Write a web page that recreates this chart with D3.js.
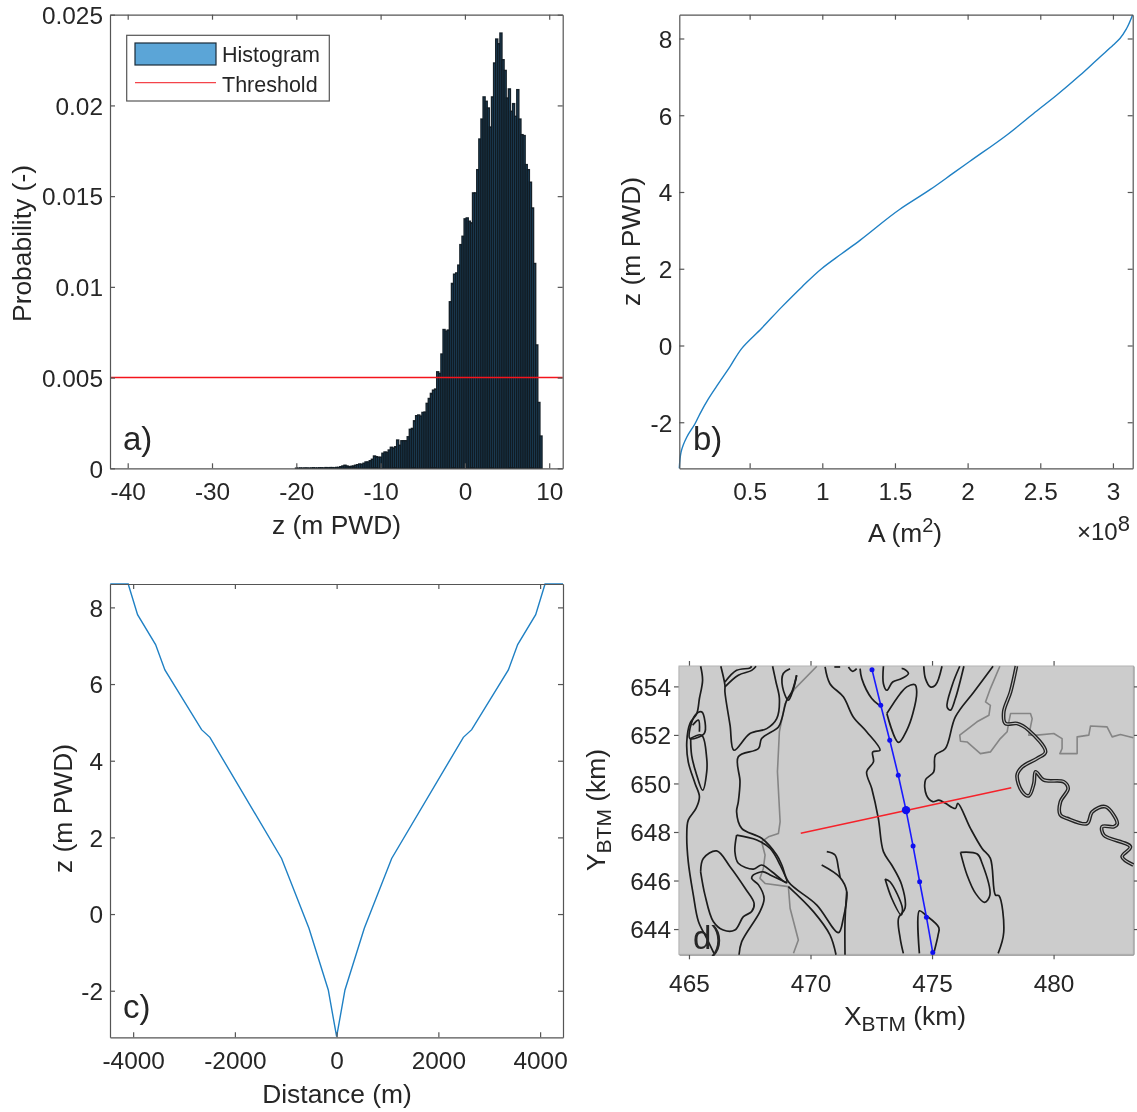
<!DOCTYPE html>
<html><head><meta charset="utf-8">
<script src="https://cdn.jsdelivr.net/npm/d3@7/dist/d3.min.js"></script>
<style>
html,body{margin:0;padding:0;background:#fff}
svg{display:block;filter:blur(0.45px)}
text{font-family:"Liberation Sans",Arial,sans-serif;fill:#262626}
.tick text{font-size:24.4px}
.axis path,.axis line{stroke:#555;stroke-width:1.2;shape-rendering:auto}
.lab{font-size:26.4px;text-anchor:middle}
.let{font-size:33px}
</style></head><body>
<div id="chart"></div>
<script>
// ---------- panel a: histogram ----------
const binWidth = 0.25;
const histTailStart = -20.1;
const histTail = [0.00001,0.00001,0.00002,0.00001,0.00002,0.00002,0.00001,0.00002,0.00003,0.00002,0.00002,0.00003,0.00003,0.00002,0.00004,0.00003,0.00004,0.00004,0.00003,0.00005];
const histStart = -15.1;
const histProb = [0.00005,0.00009,0.00013,0.00017,0.00013,0.00009,0.00011,0.00013,0.00017,0.00020,
0.00024,0.00022,0.00028,0.00035,0.00035,0.00042,0.00050,0.00068,0.00064,0.00061,
0.00061,0.00083,0.00090,0.00088,0.00101,0.00116,0.00112,0.00119,0.00156,0.00127,
0.00152,0.00152,0.00152,0.00174,0.00215,0.00220,0.00262,0.00290,0.00294,0.00288,
0.00308,0.00310,0.00358,0.00385,0.00413,0.00431,0.00437,0.00532,0.00523,0.00630,
0.00765,0.00756,0.00762,0.00918,0.01019,0.01070,0.01077,0.01120,0.01233,0.01279,
0.01375,0.01380,0.01362,0.01353,0.01518,0.01518,0.01646,0.01815,0.01925,0.02047,
0.02023,0.01986,0.01881,0.02047,0.02234,0.02366,0.02340,0.02399,0.02252,0.02193,
0.02041,0.02091,0.01968,0.02010,0.01940,0.02087,0.01925,0.01839,0.01834,0.01674,
0.01646,0.01577,0.01435,0.01129,0.00680,0.00363,0.00178];
const threshold = 0.005;
const aXTicks = [-40,-30,-20,-10,0,10];
const aYTicks = [0,0.005,0.01,0.015,0.02,0.025];
const legendLabels = ["Histogram","Threshold"];
// ---------- panel b: hypsometry ----------
const hypsoArea = [0.016,0.028,0.067,0.124,0.158,0.216,0.284,0.365,0.445,0.583,0.720,0.858,0.995,1.133,1.259,1.534,1.741,1.901,2.016,2.268,2.452,2.612,2.773,2.911,3.002,3.048,3.094,3.135];
const hypsoZ = [-3.2,-2.78,-2.39,-2.04,-1.78,-1.39,-1.0,-0.55,-0.08,0.45,1.0,1.52,2.0,2.39,2.74,3.55,4.06,4.49,4.80,5.48,6.04,6.52,7.04,7.52,7.83,8.0,8.26,8.61];
const bXTicks = [0.5,1,1.5,2,2.5,3];
const bYTicks = [-2,0,2,4,6,8];
// ---------- panel c: cross-section ----------
const sectionDist = [-4450,-4097,-3913,-3559,-3376,-2655,-2491,-1082,-544,-164,0,164,544,1082,2491,2655,3376,3559,3913,4097,4450];
const sectionZ = [8.61,8.61,7.81,7.03,6.37,4.81,4.61,1.45,-0.37,-1.98,-3.2,-1.98,-0.37,1.45,4.61,4.81,6.37,7.03,7.81,8.61,8.61];
const cXTicks = [-4000,-2000,0,2000,4000];
const cYTicks = [-2,0,2,4,6,8];
// ---------- panel d: map (km) ----------
const dXTicks = [465,470,475,480];
const dYTicks = [644,646,648,650,652,654];
const channelCenter = [[472.53,654.69],[472.89,653.22],[473.26,651.78],[473.61,650.34],[473.93,648.90],[474.22,647.42],[474.49,645.95],[474.77,644.49],[475.03,643.03]];
const sectionPoint = [473.93,648.90];
const sectionLine = [[469.6,647.95],[478.26,649.82]];
const bankLines = [
[[465.48,654.83],[465.56,654.25],[465.43,653.50],[465.32,652.88],[465.04,652.47],[464.91,651.71],[464.97,650.89],[465.25,650.00],[465.43,649.45],[465.29,648.97],[464.97,648.49],[464.91,647.87],[464.97,646.78],[465.18,645.40],[465.39,644.31],[465.73,643.62],[466.03,643.00]],
[[465.07,651.85],[465.11,651.16],[465.32,650.34],[465.56,649.72],[465.73,650.48],[465.73,651.03],[465.52,651.99],[465.07,651.85]],
[[465.04,652.26],[465.25,652.81],[465.52,652.95],[465.66,652.54],[465.63,652.06],[465.04,651.85],[465.04,652.26]],
[[465.15,652.40],[465.39,652.61],[465.43,652.13]],
[[466.31,654.83],[466.48,654.05],[466.48,653.77],[466.69,652.40],[466.85,651.37],[467.51,652.06],[468.20,652.26],[468.61,652.67],[468.72,653.50],[468.58,654.18],[468.44,654.83]],
[[466.48,654.18],[466.96,654.66],[467.51,654.76],[467.58,654.83]],
[[466.48,653.98],[467.03,654.46],[467.58,654.66],[467.76,654.83]],
[[469.16,654.73],[468.88,654.53],[468.85,653.98],[469.09,653.43],[469.30,653.91],[469.43,654.46]],
[[469.43,654.46],[469.23,653.77],[469.02,653.43],[468.82,652.67],[468.68,652.33],[467.99,651.85],[467.86,651.44],[467.03,651.10],[467.10,650.07],[467.03,649.24],[466.96,648.83],[467.17,648.15],[467.99,647.74],[468.61,647.05],[468.82,646.64],[469.09,645.95],[470.26,644.99],[471.15,643.85],[471.35,644.44],[471.49,645.54],[471.22,646.12],[470.46,646.64]],
[[471.22,646.12],[471.15,646.50],[471.01,647.05],[470.67,647.19]],
[[471.49,645.54],[471.42,644.31],[471.42,642.94]],
[[469.09,645.75],[470.12,644.72],[470.80,643.76],[471.05,642.94]],
[[466.96,647.87],[466.89,647.19],[467.03,646.71],[467.65,646.47],[467.99,646.64],[468.40,646.37],[469.02,645.91],[468.75,646.64],[468.34,647.32],[467.79,647.67],[466.96,647.87]],
[[469.02,645.91],[468.34,646.23],[468.06,646.36],[467.65,646.23],[467.58,646.09],[467.86,645.82],[468.09,645.27],[467.92,644.72],[467.17,643.48],[467.06,642.94]],
[[465.48,646.36],[465.59,646.91],[466.14,647.22],[466.69,646.57],[467.31,645.68],[467.68,645.06],[467.58,644.72],[467.24,644.51],[466.89,643.96],[466.41,643.96],[466.00,644.31],[465.66,645.40],[465.48,646.36]],
[[470.60,654.80],[470.80,654.11],[471.35,653.57],[471.76,652.74],[472.31,652.13],[472.86,651.37],[472.56,651.30],[472.59,650.89],[472.31,650.48],[472.52,649.79],[472.79,648.56],[473.00,647.19],[473.34,646.64],[473.75,645.83],[473.89,644.86],[473.62,644.44],[473.69,643.62],[473.82,643.00]],
[[473.07,646.06],[473.27,645.95],[473.78,644.86],[473.73,644.58],[473.34,645.27],[473.07,646.06]],
[[470.98,654.80],[471.22,654.80]],
[[471.56,654.80],[471.74,654.62],[471.90,654.73]],
[[472.04,654.73],[472.11,654.32],[472.52,653.50],[472.83,653.22]],
[[473.14,652.88],[473.62,651.69],[473.96,652.19],[474.21,652.88],[474.37,653.77],[474.30,654.07],[473.96,653.98],[473.69,653.70],[473.14,652.88]],
[[473.00,654.83],[473.00,654.11],[473.14,653.84],[473.38,654.18],[473.75,654.32],[474.03,654.53],[473.82,654.73],[473.75,654.73]],
[[474.66,654.83],[474.73,654.32],[474.93,653.98],[475.14,654.05],[475.41,654.83]],
[[476.14,654.83],[475.83,654.05],[475.62,653.15],[475.76,653.02],[475.96,653.50],[476.31,654.83]],
[[477.51,654.83],[476.72,653.77],[475.96,652.74],[475.55,651.44],[475.14,651.17],[475.07,650.48],[474.73,650.14],[474.77,649.52],[475.03,649.25],[475.28,649.31],[475.55,649.18],[475.96,648.97],[476.06,649.18],[476.58,648.15],[477.06,647.32],[477.40,646.91],[477.61,645.40],[477.75,645.38],[477.95,643.87],[477.72,643.00]],
[[476.17,647.16],[476.86,647.09],[477.06,646.71],[477.38,645.40],[477.16,645.10],[476.79,645.47],[476.44,646.23],[476.17,647.16]],
[[474.48,643.00],[474.48,644.75],[474.73,644.58],[475.28,644.06],[475.25,643.76],[475.07,643.00]]
];
const grayLines = [
[[470.26,654.83],[469.36,653.91],[468.95,653.29],[468.72,652.13],[468.64,650.48],[468.75,648.42],[468.68,647.94],[468.27,647.80],[467.99,647.60],[468.13,647.05],[468.06,646.50],[467.92,646.09],[468.13,645.88],[469.09,645.75],[469.16,644.86],[469.50,643.55],[469.30,643.00]],
[[477.79,654.83],[477.40,653.91],[477.20,653.36],[477.40,653.22],[477.34,652.81],[476.85,652.54],[476.14,651.99],[476.17,651.74],[476.44,651.71],[476.99,651.23],[477.40,651.30],[477.81,651.85],[478.09,652.13],[478.16,652.54],[478.23,652.88],[479.05,652.88],[479.12,652.67],[478.98,651.99],[479.32,651.99],[480.01,652.06],[480.35,651.85],[480.35,651.44],[480.26,651.23],[480.97,651.23],[480.97,651.92],[481.45,651.99],[481.52,652.37],[482.20,652.33],[482.41,651.92],[482.75,652.02],[483.28,651.88]]
];
const river = [[478.47,654.83],[478.23,653.77],[477.95,652.95],[478.02,652.47],[478.50,652.47],[478.98,652.19],[479.67,651.30],[479.32,651.03],[478.71,650.68],[478.50,650.34],[478.71,649.66],[478.98,649.49],[479.19,650.00],[479.26,650.48],[479.60,650.14],[480.42,650.07],[480.60,649.79],[480.28,649.24],[480.28,648.70],[480.56,648.56],[481.38,648.35],[481.59,648.83],[482.14,649.04],[482.62,648.35],[482.48,648.22],[482.00,648.22],[482.07,647.87],[483.16,647.39],[482.82,646.98],[483.28,646.64]];

const W=1137,H=1112;
const svg=d3.select("#chart").append("svg").attr("width",W).attr("height",H);
const lineBlue="#1f80c4";

function axes(g,x,y,xt,yt,fx,fy,sz,pad){
  const [x0,x1]=x.range(),[y1,y0]=y.range();
  const mk=(ax,tr)=>g.append("g").attr("class","axis").attr("transform",tr).call(ax).call(s=>s.select(".domain").attr("fill","none"));
  mk(d3.axisBottom(x).tickValues(xt).tickFormat(fx).tickSize(sz).tickSizeOuter(0).tickPadding(pad[0]),`translate(0,${y1})`);
  mk(d3.axisLeft(y).tickValues(yt).tickFormat(fy).tickSize(sz).tickSizeOuter(0).tickPadding(pad[1]),`translate(${x0},0)`).selectAll("text").attr("dy","0.36em");
  mk(d3.axisTop(x).tickValues(xt).tickFormat("").tickSize(sz).tickSizeOuter(0),`translate(0,${y0})`);
  mk(d3.axisRight(y).tickValues(yt).tickFormat("").tickSize(sz).tickSizeOuter(0),`translate(${x1},0)`);
}
function vlabel(g,px,py,txt){return g.append("text").attr("class","lab").attr("transform",`translate(${px},${py}) rotate(-90)`).text(txt);}
function letter(px,py,t){svg.append("text").attr("class","let").attr("x",px).attr("y",py).text(t);}

// ===== a =====
{
 const x=d3.scaleLinear().domain([-42.1,11.6]).range([110,562.7]);
 const y=d3.scaleLinear().domain([0,0.025]).range([468.3,14.7]);
 const g=svg.append("g");
 const bins=[...histTail.map((v,i)=>({x0:histTailStart+i*binWidth,v})),...histProb.map((v,i)=>({x0:histStart+i*binWidth,v}))];
 g.append("g").selectAll("rect").data(bins).join("rect")
  .attr("x",d=>x(d.x0)).attr("width",d=>x(d.x0+binWidth)-x(d.x0))
  .attr("y",d=>y(d.v)).attr("height",d=>y(0)-y(d.v))
  .attr("fill","#1f4560").attr("stroke","#101a22").attr("stroke-width",1.35).attr("stroke-opacity",0.95);
 g.append("line").attr("x1",x.range()[0]).attr("x2",x.range()[1]).attr("y1",y(threshold)).attr("y2",y(threshold)).attr("stroke","#f4141c").attr("stroke-width",1.5);
 axes(g,x,y,aXTicks,aYTicks,String,d3.format(".3~f"),-5,[14,7]);
 g.append("text").attr("class","lab").attr("x",336.5).attr("y",534).text("z (m PWD)");
 vlabel(g,31,243.5,"Probability (-)");
 // legend
 const l=g.append("g");
 l.append("rect").attr("x",126.7).attr("y",35.3).attr("width",202.6).attr("height",65.7).attr("fill","#fff").attr("stroke","#555").attr("stroke-width",1.2);
 l.append("rect").attr("x",135).attr("y",43).attr("width",81).attr("height",22).attr("fill","#5ba5d7").attr("stroke","#1a2a38").attr("stroke-width",1.2);
 l.append("line").attr("x1",135).attr("x2",216).attr("y1",82.7).attr("y2",82.7).attr("stroke","#f4444a").attr("stroke-width",1.3);
 l.append("text").attr("x",222).attr("y",62).style("font-size","21.5px").text(legendLabels[0]);
 l.append("text").attr("x",222).attr("y",92).style("font-size","21.5px").text(legendLabels[1]);
 letter(123,450,"a)");
}
// ===== b =====
{
 const x=d3.scaleLinear().domain([0.016,3.136]).range([679.3,1132.7]);
 const y=d3.scaleLinear().domain([-3.2,8.62]).range([468.3,14.7]);
 const g=svg.append("g");
 g.append("path").datum(d3.zip(hypsoArea,hypsoZ)).attr("fill","none").attr("stroke",lineBlue).attr("stroke-width",1.4)
  .attr("d",d3.line().curve(d3.curveMonotoneY).x(d=>x(d[0])).y(d=>y(d[1])));
 axes(g,x,y,bXTicks,bYTicks,String,String,-5,[14,7]);
 const t=g.append("text").attr("class","lab").attr("x",905).attr("y",542);
 t.append("tspan").text("A (m");
 t.append("tspan").attr("dy",-10).style("font-size","20px").text("2");
 t.append("tspan").attr("dy",10).text(")");
 vlabel(g,640,241.5,"z (m PWD)");
 const e=g.append("text").attr("x",1077).attr("y",540).style("font-size","24px");
 e.append("tspan").text("\u00d710");
 e.append("tspan").attr("dy",-9).style("font-size","22px").text("8");
 letter(693,450,"b)");
}
// ===== c =====
{
 const x=d3.scaleLinear().domain([-4455,4450]).range([110,563]);
 const y=d3.scaleLinear().domain([-3.215,8.61]).range([1037.3,584]);
 const g=svg.append("g");
 g.append("path").datum(d3.zip(sectionDist,sectionZ)).attr("fill","none").attr("stroke",lineBlue).attr("stroke-width",1.4)
  .attr("d",d3.line().x(d=>x(d[0])).y(d=>y(d[1])));
 axes(g,x,y,cXTicks,cYTicks,String,String,-5,[14,7]);
 g.append("text").attr("class","lab").attr("x",337).attr("y",1103).text("Distance (m)");
 vlabel(g,72,808.5,"z (m PWD)");
 letter(123,1018,"c)");
}
// ===== d =====
{
 const x=d3.scaleLinear().domain([464.59,483.28]).range([679,1133.3]);
 const y=d3.scaleLinear().domain([642.96,654.84]).range([954.3,666]);
 const g=svg.append("g");
 axes(g,x,y,dXTicks,dYTicks,String,String,5,[15,3]);
 g.append("rect").attr("x",679).attr("y",666).attr("width",454.3).attr("height",288.3).attr("fill","#cccccc").attr("stroke","#b4b4b4").attr("stroke-width",1);
 const ln=d3.line().x(d=>x(d[0])).y(d=>y(d[1]));
 const sm=d3.line().curve(d3.curveCatmullRom.alpha(0.5)).x(d=>x(d[0])).y(d=>y(d[1]));
 g.append("g").selectAll("path").data(grayLines).join("path").attr("d",ln).attr("fill","none").attr("stroke","#858585").attr("stroke-width",1.6).attr("stroke-linejoin","round");
 g.append("g").selectAll("path").data(bankLines).join("path").attr("d",sm).attr("fill","none").attr("stroke","#1c1c1c").attr("stroke-width",1.7).attr("stroke-linejoin","round");
 g.append("path").attr("d",sm(river)).attr("fill","none").attr("stroke","#222").attr("stroke-width",3.8).attr("stroke-linejoin","round");
 g.append("path").attr("d",sm(river)).attr("fill","none").attr("stroke","#bdbdbd").attr("stroke-width",1.1).attr("stroke-linejoin","round");
 g.append("path").attr("d",ln(channelCenter)).attr("fill","none").attr("stroke","#1a1aff").attr("stroke-width",1.6);
 g.append("g").selectAll("circle").data(channelCenter).join("circle").attr("cx",d=>x(d[0])).attr("cy",d=>y(d[1])).attr("r",2.5).attr("fill","#1010ee");
 g.append("path").attr("d",ln(sectionLine)).attr("fill","none").attr("stroke","#f5222a").attr("stroke-width",1.6);
 g.append("circle").attr("cx",x(sectionPoint[0])).attr("cy",y(sectionPoint[1])).attr("r",4.2).attr("fill","#1010ee");
 const sub=(el,a,s,b)=>{el.append("tspan").text(a);el.append("tspan").attr("dy",6).style("font-size","21px").text(s);el.append("tspan").attr("dy",-6).text(b);};
 sub(g.append("text").attr("class","lab").attr("x",905).attr("y",1025),"X","BTM"," (km)");
 sub(g.append("text").attr("class","lab").attr("transform","translate(605,810) rotate(-90)"),"Y","BTM"," (km)");
 letter(693,949,"d)");
}
</script></body></html>
